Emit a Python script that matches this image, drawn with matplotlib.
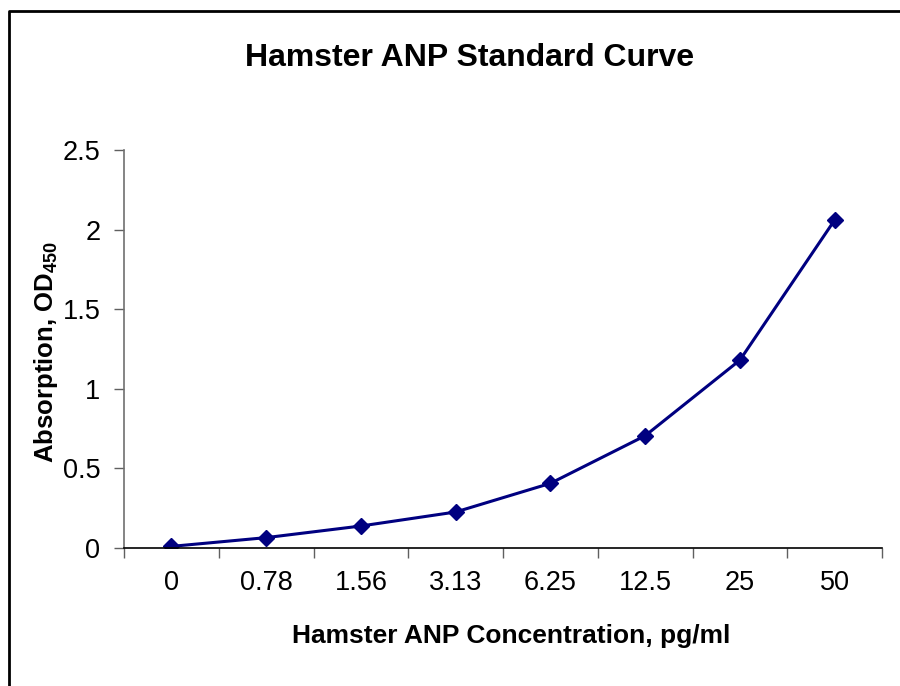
import matplotlib.pyplot as plt
import numpy as np
from matplotlib.lines import Line2D

plt.rcParams['font.family'] = ['Liberation Sans', 'DejaVu Sans']
plt.rcParams['mathtext.fontset'] = 'custom'
plt.rcParams['mathtext.rm'] = 'Liberation Sans'
plt.rcParams['mathtext.bf'] = 'Liberation Sans:bold'

# dane z wykresu
stezenia = ['0', '0.78', '1.56', '3.13', '6.25', '12.5', '25', '50']
absorpcja = [0.01, 0.065, 0.138, 0.226, 0.406, 0.705, 1.18, 2.06]
y_ticki = [0, 0.5, 1, 1.5, 2, 2.5]
y_etykiety = ['0', '0.5', '1', '1.5', '2', '2.5']

fig = plt.figure(figsize=(9, 6.86), dpi=100)
ax = fig.add_axes([0.1378, 0.2012, 0.98 - 0.1378, 0.7813 - 0.2012])

x = np.arange(len(stezenia))
ax.plot(x, absorpcja, color='#000080', lw=2.2, marker='D', markersize=8.5,
        markerfacecolor='#000080', markeredgecolor='#000080')

ax.set_xlim(-0.5, len(stezenia) - 0.5)
ax.set_ylim(0, 2.5)
ax.set_yticks(y_ticki)
ax.set_yticklabels(y_etykiety)
ax.set_xticks(x)
ax.set_xticklabels(stezenia)
ax.set_xticks(np.arange(len(stezenia) + 1) - 0.5, minor=True)
ax.tick_params(axis='x', which='major', length=0, labelsize=19.5, pad=16)
ax.tick_params(axis='x', which='minor', length=7, width=1, color='#606060', direction='out')
ax.tick_params(axis='y', length=7, width=1, color='#606060', direction='out', labelsize=19.5, pad=10)

for s in ['top', 'right']:
    ax.spines[s].set_visible(False)
ax.spines['left'].set_color('#707070')
ax.spines['bottom'].set_color('black')
ax.spines['left'].set_linewidth(1.2)
ax.spines['bottom'].set_linewidth(1.2)

ax.set_xlabel('Hamster ANP Concentration, pg/ml', fontsize=19, fontweight='bold', va='baseline')
ax.xaxis.set_label_coords((511 - 124) / 758, (548 - 643) / 398)
ax.set_ylabel(r'Absorption, OD$_{\mathbf{450}}$', fontsize=18.5, fontweight='bold', va='center')
ax.yaxis.set_label_coords((46 - 124) / 758, (548 - 352) / 398)
fig.text(0.522, 1 - 58 / 686, 'Hamster ANP Standard Curve', fontsize=23, fontweight='bold',
         ha='center', va='center')

# ramka
W, H = 900, 686
fig.add_artist(Line2D([9 / W, 9 / W, 1], [0, 1 - 11 / H, 1 - 11 / H],
                      transform=fig.transFigure, color='black', lw=2))

plt.savefig('out.png', dpi=100)
